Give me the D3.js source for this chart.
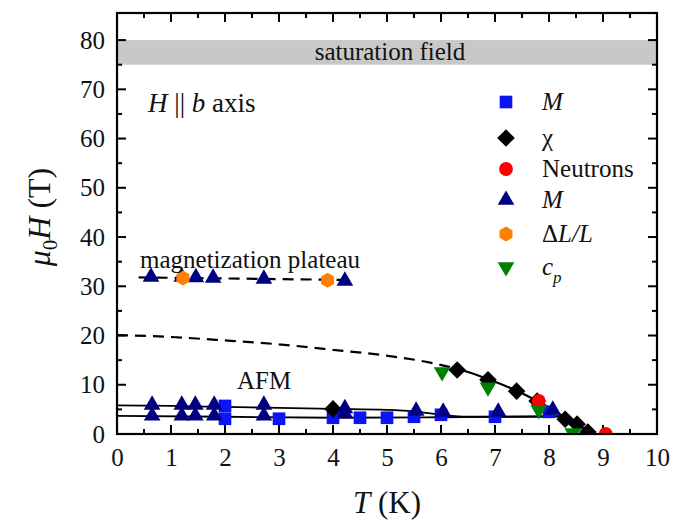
<!DOCTYPE html>
<html><head><meta charset="utf-8">
<script src="https://cdn.jsdelivr.net/npm/d3@7"></script>
<style>body{margin:0;background:#fff}svg{display:block}
svg text{font-family:"Liberation Serif","Tinos","Times New Roman","DejaVu Serif",serif !important;fill:#111}</style>
</head><body><svg id="c" width="673" height="523"></svg>
<script>
// ---- data ----
const xTicks = [0,1,2,3,4,5,6,7,8,9,10];
const yTicks = [0,10,20,30,40,50,60,70,80];
const saturationBand = [75, 80];
// M (blue squares)
const mSquares = [[2.0,5.7],[2.0,3.1],[3.0,3.1],[4.0,3.3],[4.5,3.3],[5.0,3.3],[5.5,3.5],[6.0,3.9],[7.0,3.5],[8.0,4.5]];
// chi (black diamonds)
const chiDiamonds = [[4.0,5.1],[6.3,13.0],[6.87,11.0],[7.4,8.7],[7.78,6.7],[8.3,3.0],[8.52,2.0],[8.72,0.4]];
// Neutrons (red circles)
const neutrons = [[7.81,6.7],[9.05,0.0]];
// M (navy triangles)
const mTriangles = [[0.63,31.9],[1.2,31.9],[1.46,31.8],[1.78,31.7],[2.72,31.5],[4.22,31.1],
  [0.65,5.9],[0.65,3.7],[1.2,5.9],[1.2,3.7],[1.45,5.9],[1.45,3.7],[1.8,5.9],[1.8,3.7],[2.72,5.9],[2.72,3.7],
  [4.22,5.2],[4.22,4.2],[5.54,4.7],[6.04,4.5],[7.06,4.5],[8.07,4.9]];
// dL/L (orange hexagons)
const dlHex = [[1.22,31.7],[3.9,31.2]];
// cp (green inverted triangles)
const cpTri = [[6.02,12.6],[6.87,9.5],[7.81,4.9],[8.44,0.2]];
// phase lines
const plateauDash = [[0.4,31.8],[4.2,31.3]];
const boundaryDash = [[0,20.1],[1,19.7],[2,19.0],[3,18.2],[4,17.1],[5,15.9],[5.8,14.5],[6.2,13.5]];
const boundarySolid = [[6.2,13.5],[6.5,12.6],[7,10.6],[7.5,8.3],[8,5.4],[8.3,3.3],[8.6,1.4],[8.85,0]];
const afmUpper = [[0,5.8],[1,5.7],[2,5.5],[3,5.3],[4,5.1],[5,4.9],[5.5,4.6],[6,3.9],[6.5,3.5],[7.5,3.5],[8.25,3.6]];
const afmLower = [[0,3.7],[2,3.5],[4,3.3],[6,3.4],[8.25,3.6]];
const legendLabels = ["M","χ","Neutrons","M","ΔL/L","c"];

// ---- layout ----
const FONT = '"Liberation Serif","Tinos","Times New Roman","DejaVu Serif",serif';
const L=117, R=657, T=13, B=434;
const svg = d3.select("#c");
const x = d3.scaleLinear().domain([0,10]).range([L,R]);
const y = d3.scaleLinear().domain([0,85.5]).range([B,T]);

svg.append("defs").append("clipPath").attr("id","clip").append("rect")
  .attr("x",L).attr("y",T).attr("width",R-L).attr("height",B-T);

// saturation band
svg.append("rect").attr("x",L).attr("width",R-L)
  .attr("y",y(saturationBand[1])).attr("height",y(saturationBand[0])-y(saturationBand[1]))
  .attr("fill","#c8c8c8");
svg.append("text").attr("x",x(5)+3).attr("y",(y(75)+y(80))/2+8).attr("text-anchor","middle")
  .attr("font-size",25).text("saturation field");

// ticks inside on all sides
const xMinor = d3.range(0,10.01,0.5);
const yMinor = d3.range(0,85,5);
const tg = svg.append("g").attr("stroke","#000").attr("stroke-width",2);
xMinor.forEach(v=>{
  const len = Math.abs(v-Math.round(v))<1e-6 ? 9 : 5;
  tg.append("line").attr("x1",x(v)).attr("x2",x(v)).attr("y1",B).attr("y2",B-len);
  tg.append("line").attr("x1",x(v)).attr("x2",x(v)).attr("y1",T).attr("y2",T+len);
});
yMinor.forEach(v=>{
  const len = v%10===0 ? 9 : 5;
  tg.append("line").attr("y1",y(v)).attr("y2",y(v)).attr("x1",L).attr("x2",L+len);
  tg.append("line").attr("y1",y(v)).attr("y2",y(v)).attr("x1",R).attr("x2",R-len);
});
const xAxis = svg.append("g").attr("transform",`translate(0,${B})`)
  .call(d3.axisBottom(x).tickValues(xTicks).tickSize(0).tickPadding(14).tickFormat(d3.format("d")));
const yAxis = svg.append("g").attr("transform",`translate(${L},0)`)
  .call(d3.axisLeft(y).tickValues(yTicks).tickSize(0).tickPadding(12).tickFormat(d3.format("d")));
[xAxis,yAxis].forEach(a=>{a.attr("font-family",FONT).attr("font-size",25); a.select(".domain").remove();
  a.selectAll("text").attr("font-size",25).attr("font-family",FONT).attr("fill","#111");});

// lines
const line = d3.line().x(d=>x(d[0])).y(d=>y(d[1])).curve(d3.curveMonotoneX);
const lg = svg.append("g").attr("clip-path","url(#clip)").attr("fill","none").attr("stroke","#000").attr("stroke-width",2.2);
lg.append("path").attr("d",line(plateauDash)).attr("stroke-dasharray","11,7");
lg.append("path").attr("d",line(boundaryDash)).attr("stroke-dasharray","11,7");
lg.append("path").attr("d",d3.line().x(d=>x(d[0])).y(d=>y(d[1])).curve(d3.curveCatmullRom)(boundarySolid));
lg.append("path").attr("d",line(afmUpper)).attr("stroke-width",1.8);
lg.append("path").attr("d",line(afmLower)).attr("stroke-width",1.8);

// marker shapes
const hexPath = r => { const p=d3.range(6).map(i=>{const a=Math.PI/3*i+Math.PI/6;return [r*Math.cos(a),r*Math.sin(a)];});return "M"+p.join("L")+"Z";};
const shapes = {
  square: {d:d3.symbol(d3.symbolSquare,160)(), rot:0, fill:"#0a14f5"},
  diamond:{d:d3.symbol(d3.symbolSquare,155)(), rot:45, fill:"#000"},
  circle: {d:d3.symbol(d3.symbolCircle,150)(), rot:0, fill:"#f00"},
  tri:    {d:d3.symbol(d3.symbolTriangle,120)(), rot:0, fill:"#000080"},
  hex:    {d:hexPath(7.5), rot:0, fill:"#ff8000"},
  itri:   {d:d3.symbol(d3.symbolTriangle,120)(), rot:180, fill:"#008000"}
};
const mg = svg.append("g").attr("clip-path","url(#clip)");
function plot(data, key){
  const s = shapes[key];
  mg.selectAll(null).data(data).enter().append("path").attr("d",s.d).attr("fill",s.fill)
    .attr("transform",d=>`translate(${x(d[0])},${y(d[1])}) rotate(${s.rot})`);
}
plot(mSquares,"square");
plot(chiDiamonds,"diamond");
plot(neutrons,"circle");
plot(mTriangles,"tri");
plot(dlHex,"hex");
plot(cpTri,"itri");

// frame
svg.append("rect").attr("x",L).attr("y",T).attr("width",R-L).attr("height",B-T)
  .attr("fill","none").attr("stroke","#000").attr("stroke-width",2.2);

// annotations
const ann = svg.append("text").attr("x",148).attr("y",112).attr("font-size",27);
ann.append("tspan").attr("font-style","italic").text("H");
ann.append("tspan").text(" || ");
ann.append("tspan").attr("font-style","italic").text("b");
ann.append("tspan").text(" axis");
svg.append("text").attr("x",140).attr("y",268).attr("font-size",25).text("magnetization plateau");
svg.append("text").attr("x",237).attr("y",389).attr("font-size",25).text("AFM");

// legend
const keys = ["square","diamond","circle","tri","hex","itri"];
const rowsY = [102,138,169,200,234,267];
keys.forEach((k,i)=>{
  const s=shapes[k];
  svg.append("path").attr("d",s.d).attr("fill",s.fill).attr("transform",`translate(506,${rowsY[i]}) rotate(${s.rot})`);
  const t = svg.append("text").attr("x",542).attr("y",rowsY[i]+8).attr("font-size",25);
  const lab = legendLabels[i];
  if(lab==="M"){ t.append("tspan").attr("font-style","italic").text("M"); }
  else if(lab==="ΔL/L"){ t.append("tspan").text("Δ"); t.append("tspan").attr("font-style","italic").text("L/L"); }
  else if(lab==="c"){ t.append("tspan").attr("font-style","italic").text("c");
    t.append("tspan").attr("font-style","italic").attr("font-size",17).attr("dy",8).text("p"); }
  else t.text(lab);
});

// axis titles
const xt = svg.append("text").attr("x",387).attr("y",513).attr("text-anchor","middle").attr("font-size",31);
xt.append("tspan").attr("font-style","italic").text("T");
xt.append("tspan").text(" (K)");
const yt = svg.append("text").attr("transform","translate(50,217) rotate(-90)").attr("text-anchor","middle").attr("font-size",32);
yt.append("tspan").attr("font-style","italic").text("μ");
yt.append("tspan").attr("font-size",21).attr("dy",7).text("0");
yt.append("tspan").attr("font-style","italic").attr("dy",-7).text("H");
yt.append("tspan").text(" (T)");
</script></body></html>
